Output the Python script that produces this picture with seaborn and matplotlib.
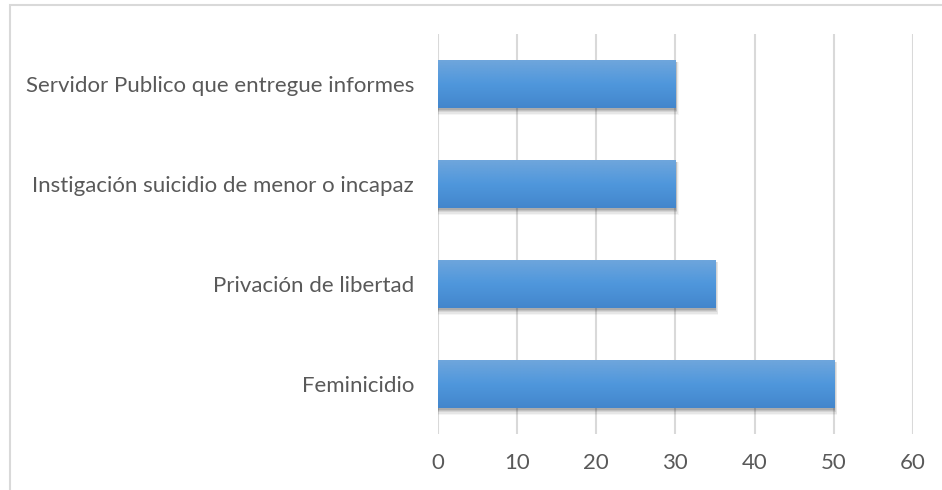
import numpy as np
import pandas as pd
import seaborn as sns
import matplotlib.pyplot as plt
from matplotlib.patches import Rectangle

# data
categories = [
    "Servidor Publico que entregue informes",
    "Instigación suicidio de menor o incapaz",
    "Privación de libertad",
    "Feminicidio",
]
values = [30, 30, 35, 50]
x_ticks = [0, 10, 20, 30, 40, 50, 60]

df = pd.DataFrame({"delito": categories, "casos": values})

sns.set_style("white")
plt.rcParams["font.family"] = ["Lato", "DejaVu Sans"]
text_color = "#595959"

fig = plt.figure(figsize=(9.42, 4.9), dpi=100)
ax = fig.add_axes([437.5 / 942, 1 - 434 / 490, (913 - 437.5) / 942, 400 / 490])

sns.barplot(data=df, x="casos", y="delito", orient="h", color="#5b9bd5",
            width=0.48, ax=ax, zorder=3)

# gradient + soft shadow on each bar
grad = np.linspace(0, 1, 256).reshape(-1, 1)
cmap = plt.matplotlib.colors.LinearSegmentedColormap.from_list(
    "bar", ["#6fa6dc", "#4f97dc", "#4386cc"])
for p in ax.patches:
    x0, y0 = p.get_x(), p.get_y()
    w, h = p.get_width(), p.get_height()
    for i, a in enumerate([0.10, 0.09, 0.08, 0.06, 0.04]):
        dx, dy = 0.12 + 0.08 * i, 0.02 + 0.012 * i
        ax.add_patch(Rectangle((x0 + 0.1, y0 + 0.015), w - 0.1 + dx, h + dy - 0.015,
                               facecolor="black", alpha=a, lw=0, zorder=2))
    p.set_facecolor("none")
    p.set_edgecolor("none")
    im = ax.imshow(grad, cmap=cmap, aspect="auto", extent=(x0, x0 + w, y0 + h, y0),
                   zorder=3, interpolation="bilinear")
    clip = Rectangle((x0, y0), w, h, transform=ax.transData, facecolor="none", lw=0)
    ax.add_patch(clip)
    im.set_clip_path(clip)

ax.set_xlim(0, 60)
ax.set_ylim(3.5, -0.5)
ax.set_xticks(x_ticks)
ax.grid(axis="x", color="#d9d9d9", lw=1.5, zorder=0)
for s in ax.spines.values():
    s.set_visible(False)
ax.tick_params(axis="both", length=0, labelsize=16, colors=text_color)
ax.tick_params(axis="y", pad=17)
ax.tick_params(axis="x", pad=14)
ax.set_xlabel("")
ax.set_ylabel("")

# outer chart border
fig.patches.append(Rectangle((10 / 942, -0.1), 1.2, 1 - 5 / 490 + 0.1,
                             transform=fig.transFigure, fill=False,
                             edgecolor="#d9d9d9", lw=1.5))

fig.savefig("out.png", dpi=100)
